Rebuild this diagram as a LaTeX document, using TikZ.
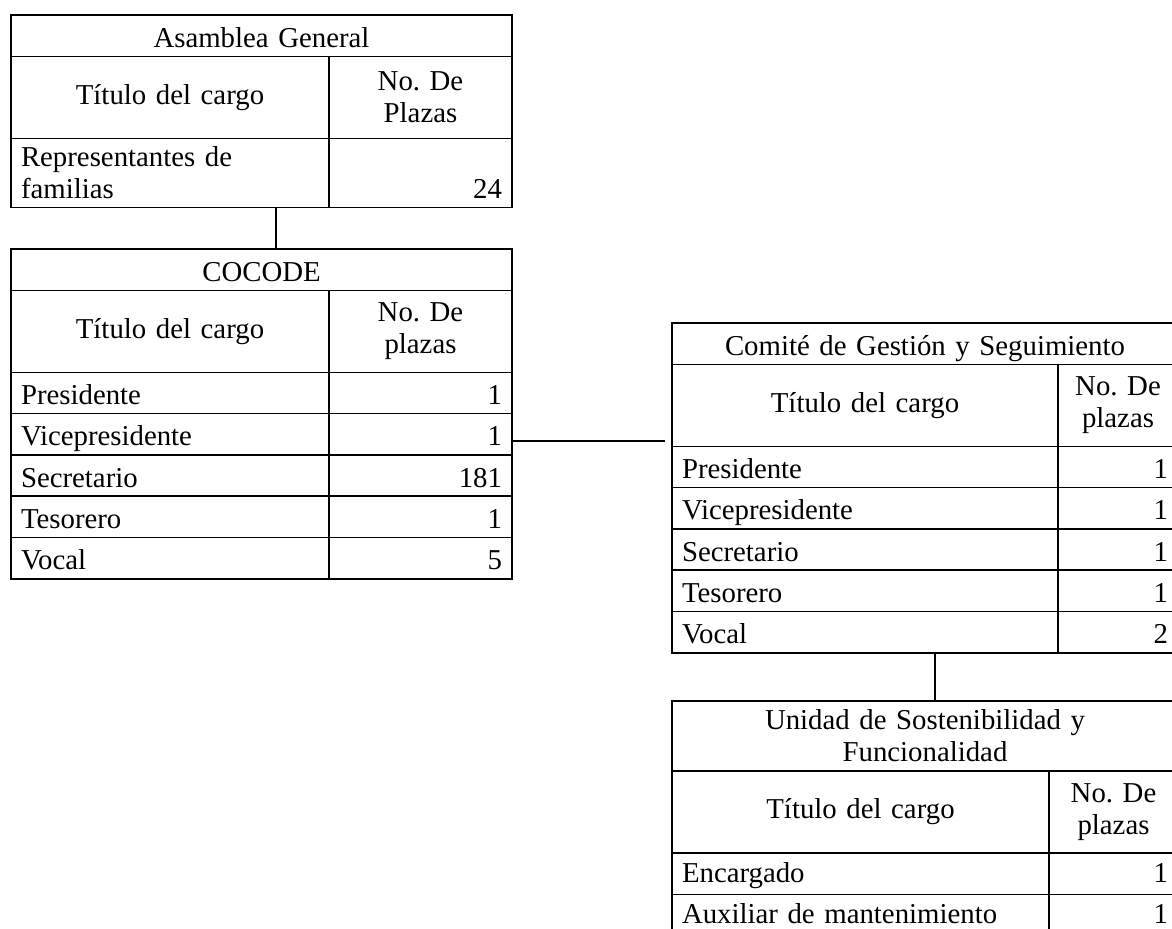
\documentclass[tikz,border=0pt]{standalone}
\usepackage{fontspec}
\setmainfont{Liberation Serif}
\usetikzlibrary{positioning}
\newcommand{\cellfont}{\fontsize{14.4}{16}\selectfont}
\frenchspacing

\begin{document}
\begin{tikzpicture}[
  x=0.5pt, y=-0.5pt,
  cell/.style={draw, line width=0.75pt, inner xsep=5pt, inner ysep=0pt, outer sep=0pt,
               font=\cellfont, text width=#1, minimum height=20.65pt},
  ln/.style={text height=11.5pt, text depth=0pt},
  ttl/.style={cell=#1, align=center, ln},
  hd/.style={cell=#1, align=center, minimum height=41pt},
  nm/.style={cell=#1, align=left, ln},
  nr/.style={cell=#1, align=right, ln},
  up/.style={text height=8.5pt},
  link/.style={line width=0.75pt}]
\useasboundingbox (0,0) rectangle (1172,928);
\clip (0,0) rectangle (1172,928);
% Asamblea General
\node[ttl=240.5pt, anchor=north west] (ag) at (11,15) {Asamblea General};
\node[hd=149pt, anchor=north west] (ag0) at (ag.south west) {Título del cargo};
\node[hd=81.5pt, right=0pt of ag0] (an0) {No. De\\Plazas};
\node[cell=149pt, align=left, minimum height=34.5pt, below=0pt of ag0] (ag1) {Representantes de\\familias};
\node[cell=81.5pt, align=right, minimum height=34.5pt, right=0pt of ag1] (an1) {\phantom{R}\\24};
% COCODE
\node[ttl=240.5pt, anchor=north west] (co) at (11,249) {COCODE};
\node[hd=149pt, anchor=north west] (co0) at (co.south west) {Título del cargo};
\node[hd=81.5pt, right=0pt of co0] (cn0) {No. De\\plazas};
\foreach \cargo/\plazas [count=\i, remember=\i as \j (initially 0)] in
  {Presidente/1, Vicepresidente/1, Secretario/181, Tesorero/1, Vocal/5} {
  \node[nm=149pt, below=0pt of co\j] (co\i) {\cargo};
  \node[nr=81.5pt, right=0pt of co\i] (cn\i) {\plazas};
}
% Comite de Gestion y Seguimiento
\node[ttl=243pt, anchor=north west] (cg) at (672,323) {Comité de Gestión y Seguimiento};
\node[hd=183pt, anchor=north west] (cg0) at (cg.south west) {Título del cargo};
\node[hd=50pt, right=0pt of cg0] (gn0) {No. De\\plazas};
\foreach \cargo/\plazas [count=\i, remember=\i as \j (initially 0)] in
  {Presidente/1, Vicepresidente/1, Secretario/1, Tesorero/1, Vocal/2} {
  \node[nm=183pt, below=0pt of cg\j] (cg\i) {\cargo};
  \node[nr=50pt, right=0pt of cg\i] (gn\i) {\plazas};
}
% Unidad de Sostenibilidad y Funcionalidad
\node[cell=243pt, align=center, minimum height=35pt, anchor=north west] (us) at (672,701)
  {Unidad de Sostenibilidad y\\Funcionalidad};
\node[hd=178.5pt, anchor=north west] (us0) at (us.south west) {Título del cargo};
\node[hd=54.5pt, right=0pt of us0] (un0) {No. De\\plazas};
\foreach \cargo/\plazas [count=\i, remember=\i as \j (initially 0)] in
  {Encargado/1, Auxiliar de mantenimiento/1} {
  \node[nm=178.5pt, up, below=0pt of us\j] (us\i) {\cargo};
  \node[nr=54.5pt, up, right=0pt of us\i] (un\i) {\plazas};
}
\coordinate (gap) at ([xshift=-3.5pt]cg0.west);
\draw[link] ([xshift=7.25pt]co.north) -- ([xshift=7.25pt]co.north |- ag1.south);
\draw[link] ([yshift=-3.4pt]cn2.east) -- ([yshift=-3.4pt]cn2.east -| gap);
\draw[link] ([xshift=5pt]us.north) -- ([xshift=5pt]us.north |- cg5.south);
\end{tikzpicture}
\end{document}
